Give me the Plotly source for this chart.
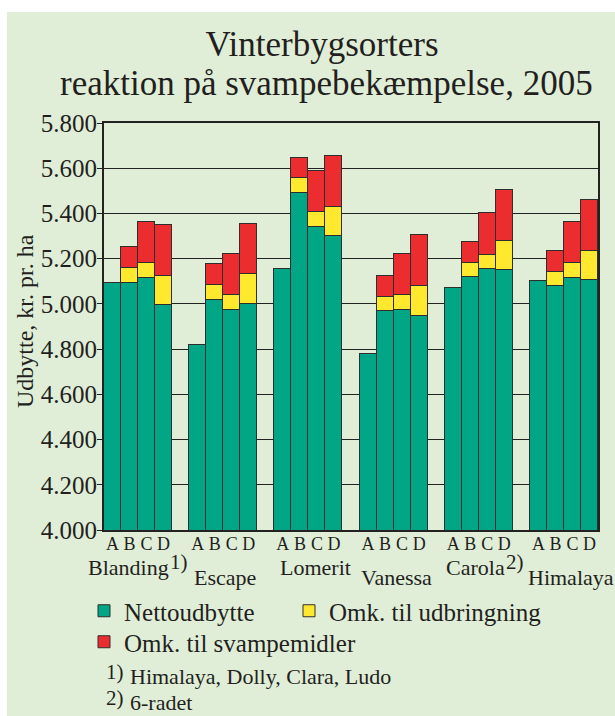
import plotly.graph_objects as go

# ---------------- data ----------------
groups = ["Blanding", "Escape", "Lomerit", "Vanessa", "Carola", "Himalaya"]
group_notes = ["1)", "", "", "", "2)", ""]
treatments = ["A", "B", "C", "D"]

nettoudbytte = [5093, 5093, 5115, 4994,
                4816, 5019, 4973, 5000,
                5154, 5492, 5341, 5301,
                4777, 4968, 4973, 4947,
                5069, 5117, 5154, 5149,
                5100, 5080, 5115, 5105]
omk_udbringning = [None, 65, 65, 130,
                   None, 65, 65, 131,
                   None, 64, 65, 129,
                   None, 64, 65, 131,
                   None, 63, 63, 131,
                   None, 63, 65, 130]
omk_svampemidler = [None, 94, 182, 224,
                    None, 92, 182, 223,
                    None, 91, 181, 224,
                    None, 92, 182, 225,
                    None, 93, 183, 225,
                    None, 92, 182, 226]

y_tickvals = [4000, 4200, 4400, 4600, 4800, 5000, 5200, 5400, 5600, 5800]
y_ticktext = ["4.000", "4.200", "4.400", "4.600", "4.800", "5.000",
              "5.200", "5.400", "5.600", "5.800"]

title_line1 = "Vinterbygsorters"
title_line2 = "reaktion på svampebekæmpelse, 2005"
y_title = "Udbytte, kr. pr. ha"
footnotes = [("1)", "Himalaya, Dolly, Clara, Ludo"), ("2)", "6-radet")]

# ---------------- layout helpers ----------------
FONT = "Liberation Serif"
TXT = "#231f20"
BG = "#e0eed8"
W, H = 615, 716
PL, PR, PT, PB = 104, 598, 123, 530   # plot area in pixels
L, R, T, B = PL, W - PR, PT, H - PB

def px_x(sx):
    return (sx - PL) / (PR - PL)

def px_y(sy):
    return (PB - sy) / (PB - PT)

slot = len(treatments) + 1
xpos = [gi * slot + ti for gi in range(len(groups)) for ti in range(len(treatments))]
xlabels = [t for _ in groups for t in treatments]

fig = go.Figure()
series = [
    ("Nettoudbytte", nettoudbytte, "#00a685", "legend"),
    ("Omk. til udbringning", omk_udbringning, "#ffe92e", "legend2"),
    ("Omk. til svampemidler", omk_svampemidler, "#ec2d2f", "legend3"),
]
for name, vals, col, lg in series:
    fig.add_trace(go.Bar(
        x=xpos, y=vals, name=name, width=1, legend=lg,
        marker=dict(color=col, line=dict(color="#2e2e2e", width=1)),
    ))

annotations = []
annotations.append(dict(text=title_line2, xref="paper", yref="paper",
                        x=px_x(326), y=px_y(83), xanchor="center", yanchor="middle",
                        showarrow=False, font=dict(family=FONT, size=35, color=TXT)))
annotations.append(dict(text=y_title, xref="paper", yref="paper", textangle=-90,
                        x=px_x(25), y=px_y(321), xanchor="center", yanchor="middle",
                        showarrow=False, font=dict(family=FONT, size=24, color=TXT)))

label_dx = [-10, 2, 7, 3, -3, 7]
label_py = [567, 577, 567, 577, 567, 577]
for gi, g in enumerate(groups):
    cx = gi * slot + (len(treatments) - 1) / 2
    annotations.append(dict(text=g, xref="x", yref="paper", x=cx, y=px_y(label_py[gi]),
                            xshift=label_dx[gi], xanchor="center", yanchor="middle",
                            showarrow=False, font=dict(family=FONT, size=22, color=TXT)))
    if group_notes[gi]:
        annotations.append(dict(text=group_notes[gi], xref="x", yref="paper", x=cx,
                                y=px_y(label_py[gi] - 5),
                                xshift=label_dx[gi] + (40 if gi == 0 else 28),
                                xanchor="left", yanchor="middle", showarrow=False,
                                font=dict(family=FONT, size=21, color=TXT)))

fn_py = [676, 702]
for i, (mark, txt) in enumerate(footnotes):
    annotations.append(dict(text=mark, xref="paper", yref="paper", x=px_x(104),
                            y=px_y(fn_py[i] - 4), xanchor="left", yanchor="middle",
                            showarrow=False, font=dict(family=FONT, size=21, color=TXT)))
    annotations.append(dict(text=txt, xref="paper", yref="paper", x=px_x(128),
                            y=px_y(fn_py[i]), xanchor="left", yanchor="middle",
                            showarrow=False, font=dict(family=FONT, size=22, color=TXT)))

shapes = [
    # white margins round the green panel
    dict(type="rect", xref="paper", yref="paper", x0=px_x(-10), x1=px_x(W + 10),
         y0=px_y(12), y1=px_y(-10), fillcolor="white", line=dict(width=0), layer="below"),
    dict(type="rect", xref="paper", yref="paper", x0=px_x(-10), x1=px_x(7),
         y0=px_y(H + 10), y1=px_y(-10), fillcolor="white", line=dict(width=0), layer="below"),
]

legend_common = dict(orientation="v", xanchor="left", yanchor="top",
                     bgcolor="rgba(0,0,0,0)", font=dict(family=FONT, size=25, color=TXT),
                     itemclick=False, itemdoubleclick=False)

fig.update_layout(
    width=W, height=H,
    margin=dict(l=L, r=R, t=T, b=B, pad=0),
    paper_bgcolor=BG, plot_bgcolor=BG,
    barmode="stack", bargap=0,
    font=dict(family=FONT, color=TXT),
    title=dict(text=title_line1, xref="container", yref="container",
               x=322 / W, y=1 - 44 / H, xanchor="center", yanchor="middle",
               font=dict(family=FONT, size=35, color=TXT)),
    xaxis=dict(range=[-0.5, len(groups) * slot - 1.5], tickvals=xpos, ticktext=xlabels,
               tickfont=dict(family=FONT, size=18, color=TXT), ticks="",
               ticklabelstandoff=-3,
               showgrid=False, zeroline=False, showline=True, linecolor="#222",
               linewidth=1.5, mirror=True, fixedrange=True),
    yaxis=dict(range=[4000, 5800], tickvals=y_tickvals, ticktext=y_ticktext,
               tickfont=dict(family=FONT, size=25, color=TXT), ticks="outside",
               ticklen=5, tickwidth=1.3, tickcolor="#222", ticklabelstandoff=-5,
               showgrid=True, gridcolor="#222", gridwidth=1.3, zeroline=False,
               showline=True, linecolor="#222", linewidth=2, mirror=True,
               fixedrange=True),
    legend=dict(x=px_x(84), y=px_y(588), **legend_common),
    legend2=dict(x=px_x(289), y=px_y(588), **legend_common),
    legend3=dict(x=px_x(84), y=px_y(619), **legend_common),
    annotations=annotations,
    shapes=shapes,
    showlegend=True,
)

fig.write_html("out.html",
               config={"displayModeBar": False},
               post_script="document.body.style.margin='0';"
                           "document.body.style.overflow='hidden';")
